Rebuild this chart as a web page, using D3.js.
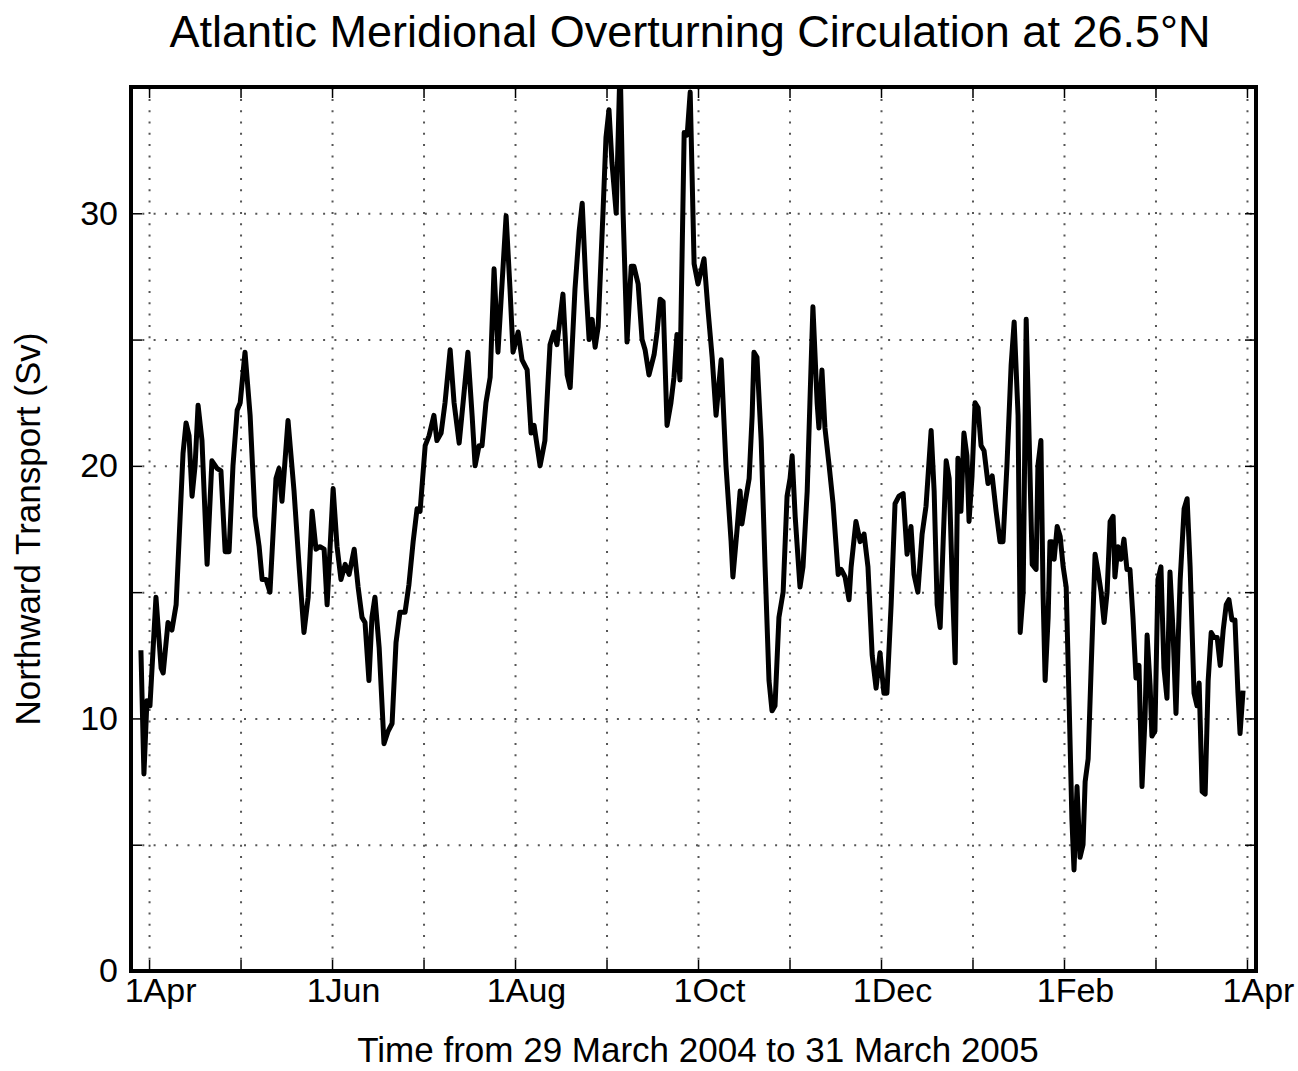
<!DOCTYPE html>
<html>
<head>
<meta charset="utf-8">
<script src="https://cdn.jsdelivr.net/npm/d3@7"></script>
<style>
  body { margin: 0; background: #fff; }
  text { font-family: "Liberation Sans", Arial, Helvetica, sans-serif; fill: #000; }
</style>
</head>
<body>
<div id="chart"></div>
<script>
// days since 1 Apr 2004 (record runs 29 Mar 2004 - 31 Mar 2005)
var dayOffset = [-2.7, -1.7, -0.7, 0.3, 2.3, 4.0, 4.7, 6.3, 7.6, 9.0, 11.3, 12.3, 13.3, 14.3, 15.3, 16.3, 17.6, 19.3, 20.9, 22.6,
  23.9, 25.3, 26.6, 27.9, 29.3, 30.3, 31.9, 33.6, 35.2, 36.6, 37.6, 38.9, 40.2, 42.2, 43.2, 44.2, 46.2, 48.2, 49.9, 51.5,
  52.9, 54.2, 55.5, 56.8, 58.2, 59.2, 61.2, 62.5, 63.8, 65.2, 66.5, 68.2, 69.5, 70.8, 71.8, 73.1, 74.1, 75.1, 76.5, 78.1,
  79.5, 80.8, 82.1, 83.4, 85.1, 86.4, 87.8, 89.1, 90.1, 91.8, 93.1, 94.7, 95.7, 97.1, 98.4, 100.1, 101.4, 103.1, 104.4, 106.0,
  107.4, 108.4, 109.7, 110.7, 112.0, 113.4, 114.7, 116.0, 117.0, 118.7, 120.0, 121.0, 122.7, 124.0, 125.7, 127.0, 128.0, 130.0, 131.6, 133.3,
  134.6, 135.6, 137.6, 139.0, 140.0, 141.6, 143.0, 144.0, 145.3, 146.3, 147.3, 148.3, 149.3, 150.9, 151.9, 152.9, 153.9, 155.3, 156.6, 157.6,
  158.9, 160.3, 161.2, 162.6, 163.9, 164.9, 166.2, 167.9, 168.9, 169.9, 170.9, 172.2, 173.5, 174.5, 175.5, 176.5, 177.9, 178.9, 179.9, 181.2,
  182.5, 184.5, 185.8, 187.2, 188.5, 190.2, 191.8, 193.5, 194.1, 195.5, 196.5, 197.1, 198.1, 199.5, 200.5, 201.1, 202.1, 203.5, 204.8, 206.1,
  207.1, 208.1, 209.4, 210.8, 212.1, 213.1, 213.8, 214.8, 216.4, 217.4, 218.8, 219.7, 220.7, 222.1, 222.7, 223.7, 224.7, 226.1, 227.4, 229.1,
  230.1, 231.4, 232.7, 233.4, 235.0, 236.4, 237.7, 239.0, 240.4, 241.7, 243.0, 244.3, 245.3, 246.7, 248.0, 249.3, 250.7, 252.0, 253.3, 254.3,
  255.6, 257.0, 258.3, 260.0, 261.0, 262.0, 263.0, 264.0, 265.0, 266.0, 267.0, 268.0, 268.9, 269.9, 270.9, 271.9, 272.6, 273.6, 274.6, 275.6,
  276.6, 277.6, 278.9, 280.3, 281.6, 282.9, 283.9, 285.2, 286.6, 287.6, 288.9, 289.6, 290.6, 291.6, 292.6, 293.6, 294.9, 295.5, 296.5, 297.2,
  297.9, 298.9, 299.5, 300.2, 300.9, 301.9, 302.9, 303.9, 304.9, 305.9, 306.8, 307.5, 308.5, 309.5, 310.5, 311.2, 312.2, 313.2, 314.5, 315.5,
  316.5, 317.5, 318.5, 319.5, 320.5, 321.1, 322.1, 323.1, 324.1, 325.1, 326.1, 327.1, 328.1, 329.1, 330.1, 331.1, 331.8, 332.8, 333.4, 334.4,
  335.4, 336.4, 337.4, 338.4, 339.4, 340.4, 341.4, 342.1, 342.8, 344.1, 345.1, 346.1, 347.4, 348.4, 349.1, 350.1, 351.1, 352.1, 353.1, 354.1,
  355.1, 356.1, 357.1, 358.1, 359.0, 360.0, 361.0, 362.0, 362.7, 363.7];

// northward transport in Sverdrups
var transport = [12.7, 7.8, 10.7, 10.5, 14.8, 12.0, 11.8, 13.8, 13.5, 14.5, 20.5, 21.7, 21.2, 18.8, 20.0, 22.4, 21.0, 16.1, 20.2, 19.9,
  19.8, 16.6, 16.6, 20.0, 22.2, 22.5, 24.5, 22.0, 18.0, 16.8, 15.5, 15.5, 15.0, 19.5, 19.9, 18.6, 21.8, 19.0, 16.0, 13.4,
  14.8, 18.2, 16.7, 16.8, 16.7, 14.5, 19.1, 16.8, 15.5, 16.1, 15.7, 16.7, 15.2, 14.0, 13.8, 11.5, 14.0, 14.8, 12.8, 9.0,
  9.5, 9.8, 13.0, 14.2, 14.2, 15.3, 17.0, 18.3, 18.2, 20.8, 21.2, 22.0, 21.0, 21.3, 22.5, 24.6, 22.5, 20.9, 22.5, 24.5,
  22.0, 20.0, 20.8, 20.8, 22.5, 23.5, 27.8, 24.5, 26.5, 29.9, 27.0, 24.5, 25.3, 24.2, 23.8, 21.3, 21.6, 20.0, 21.0, 24.8,
  25.3, 24.8, 26.8, 23.6, 23.1, 27.0, 29.3, 30.4, 27.0, 25.0, 25.8, 24.7, 25.5, 30.0, 33.0, 34.1, 32.0, 30.0, 36.0, 30.0,
  24.9, 27.9, 27.9, 27.2, 25.0, 24.6, 23.6, 24.4, 25.3, 26.6, 26.5, 21.6, 22.5, 23.5, 25.2, 23.4, 33.2, 33.1, 34.8, 28.0,
  27.2, 28.2, 26.2, 24.3, 22.0, 24.2, 20.0, 17.0, 15.6, 17.5, 19.0, 17.7, 18.5, 19.5, 22.0, 24.5, 24.3, 21.0, 16.0, 11.5,
  10.3, 10.5, 14.0, 15.0, 18.8, 19.5, 20.4, 18.0, 15.2, 16.0, 19.0, 22.5, 26.3, 22.5, 21.5, 23.8, 21.5, 20.0, 18.5, 15.7,
  15.9, 15.6, 14.7, 16.0, 17.8, 17.0, 17.3, 16.0, 12.5, 11.2, 12.6, 11.0, 11.0, 14.5, 18.5, 18.8, 18.9, 16.5, 17.6, 15.7,
  15.0, 17.3, 18.4, 21.4, 19.0, 14.5, 13.6, 17.0, 20.2, 19.5, 15.5, 12.2, 20.3, 18.2, 21.3, 20.4, 17.8, 19.6, 22.5, 22.3,
  20.8, 20.6, 19.3, 19.6, 18.2, 17.0, 17.0, 20.0, 24.0, 25.7, 22.0, 13.4, 15.0, 25.8, 21.0, 16.1, 15.9, 20.0, 21.0, 15.0,
  11.5, 14.0, 17.0, 17.0, 16.3, 17.6, 17.2, 16.0, 15.2, 10.5, 6.0, 4.0, 7.3, 4.5, 5.0, 7.5, 8.4, 12.0, 16.5, 15.8,
  15.0, 13.8, 15.0, 17.8, 18.0, 15.6, 16.8, 16.3, 17.1, 15.9, 15.9, 14.0, 11.6, 12.1, 7.3, 10.0, 13.3, 11.3, 9.3, 9.5,
  15.5, 16.0, 12.0, 10.8, 15.8, 13.5, 10.2, 13.0, 15.5, 18.3, 18.7, 16.0, 11.0, 10.5, 11.4, 7.1, 7.0, 11.5, 13.4, 13.2,
  13.2, 12.1, 13.5, 14.5, 14.7, 13.9, 13.9, 11.0, 9.4, 11.1];

// month ticks (evenly spaced over the year), every other one labelled
var monthLabels = ["1Apr", "", "1Jun", "", "1Aug", "", "1Oct", "", "1Dec", "", "1Feb", "", "1Apr"];
var yTicks = [0, 5, 10, 15, 20, 25, 30];
var yLabels = [0, 10, 20, 30];

var svgWidth = 1298;
var svgHeight = 1071;

var margin = {
  top: 87,
  right: 42,
  bottom: 100,
  left: 131
};

var width = svgWidth - margin.left - margin.right;
var height = svgHeight - margin.top - margin.bottom;

var svg = d3.select("#chart")
  .append("svg")
  .attr("width", svgWidth)
  .attr("height", svgHeight);

var chartGroup = svg.append("g")
  .attr("transform", `translate(${margin.left}, ${margin.top})`);

var data = dayOffset.map((d, i) => ({ day: d, value: transport[i] }));

var xScale = d3.scaleLinear()
  .domain([-6, 368])
  .range([0, width]);

var yScale = d3.scaleLinear()
  .domain([0, 35])
  .range([height, 0]);

var monthTicks = monthLabels.map((m, i) => i * 365 / 12);

// dotted grid
var gridStyle = function(g) {
  g.select(".domain").remove();
  g.selectAll(".tick line")
    .attr("stroke", "#555")
    .attr("stroke-width", 2)
    .attr("stroke-dasharray", "2,9.3");
};

chartGroup.append("g")
  .attr("transform", `translate(0, ${height})`)
  .call(d3.axisBottom(xScale).tickValues(monthTicks).tickSize(-height).tickFormat(""))
  .call(gridStyle);

chartGroup.append("g")
  .call(d3.axisLeft(yScale).tickValues(yTicks.filter(v => v > 0)).tickSize(-width).tickFormat(""))
  .call(gridStyle);

// the series
chartGroup.append("clipPath")
  .attr("id", "plot-clip")
  .append("rect")
  .attr("width", width)
  .attr("height", height);

var line = d3.line()
  .x(d => xScale(d.day))
  .y(d => yScale(d.value));

chartGroup.append("path")
  .datum(data)
  .attr("clip-path", "url(#plot-clip)")
  .attr("fill", "none")
  .attr("stroke", "#000")
  .attr("stroke-width", 5)
  .attr("stroke-linejoin", "round")
  .attr("d", line);

// axes with inward ticks on all four sides
var tickStyle = function(g) {
  g.select(".domain").remove();
  g.selectAll(".tick line").attr("stroke", "#000").attr("stroke-width", 1.5);
  g.selectAll(".tick text").style("font-size", "34px");
};

chartGroup.append("g")
  .attr("transform", `translate(0, ${height})`)
  .call(d3.axisBottom(xScale).tickValues(monthTicks).tickSizeInner(-11).tickSizeOuter(0).tickPadding(7)
    .tickFormat((d, i) => monthLabels[i]))
  .call(tickStyle)
  .selectAll(".tick text").attr("dx", 11);

chartGroup.append("g")
  .call(d3.axisTop(xScale).tickValues(monthTicks).tickSizeInner(-11).tickSizeOuter(0).tickFormat(""))
  .call(tickStyle);

chartGroup.append("g")
  .call(d3.axisLeft(yScale).tickValues(yTicks).tickSizeInner(-11).tickSizeOuter(0).tickPadding(13)
    .tickFormat(d => yLabels.includes(d) ? d : ""))
  .call(tickStyle);

chartGroup.append("g")
  .attr("transform", `translate(${width}, 0)`)
  .call(d3.axisRight(yScale).tickValues(yTicks).tickSizeInner(-11).tickSizeOuter(0).tickFormat(""))
  .call(tickStyle);

// box
chartGroup.append("rect")
  .attr("width", width)
  .attr("height", height)
  .attr("fill", "none")
  .attr("stroke", "#000")
  .attr("stroke-width", 4);

// labels
svg.append("text")
  .attr("x", 690)
  .attr("y", 47)
  .attr("text-anchor", "middle")
  .style("font-size", "45px")
  .text("Atlantic Meridional Overturning Circulation at 26.5°N");

svg.append("text")
  .attr("x", 698)
  .attr("y", 1062)
  .attr("text-anchor", "middle")
  .style("font-size", "35px")
  .text("Time from 29 March 2004 to 31 March 2005");

svg.append("text")
  .attr("transform", `translate(40, ${margin.top + height / 2}) rotate(-90)`)
  .attr("text-anchor", "middle")
  .style("font-size", "35px")
  .text("Northward Transport (Sv)");
</script>
</body>
</html>
